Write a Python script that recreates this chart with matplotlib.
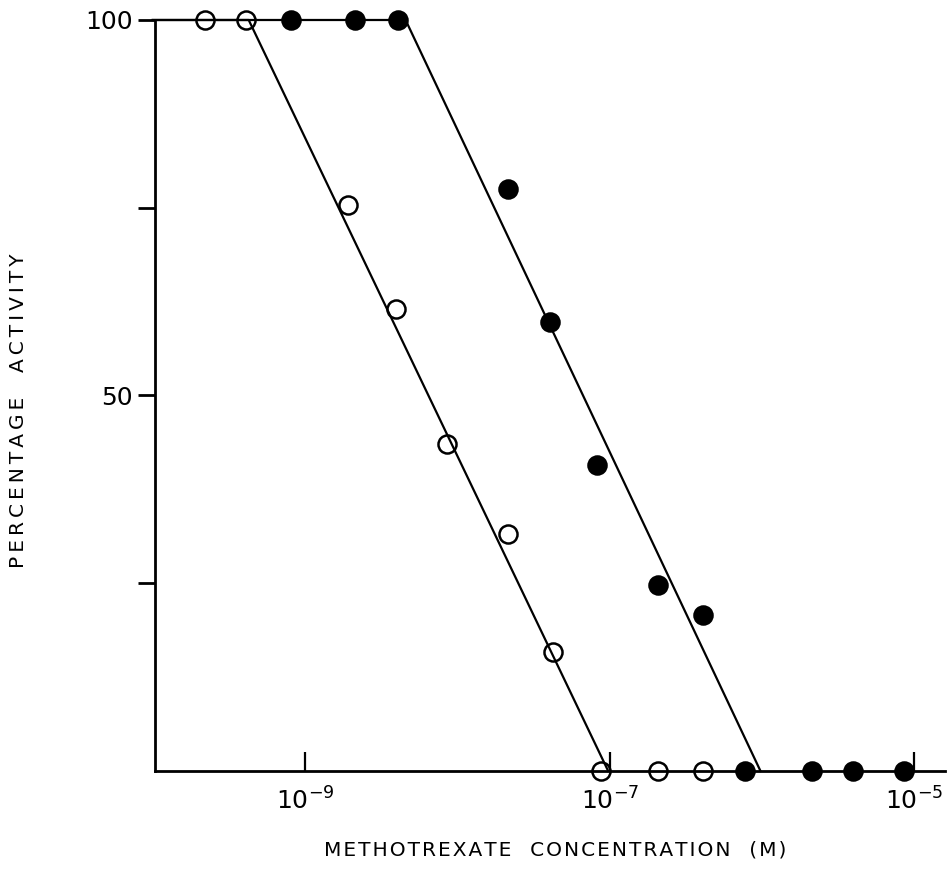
import numpy as np
import matplotlib.pyplot as plt

# log10 of methotrexate concentration (M) and percentage activity
open_logc = [-9.66, -9.39, -8.72, -8.40, -8.07, -7.67, -7.37, -7.06, -6.68, -6.39]
open_act = [100, 100, 75.3, 61.5, 43.6, 31.5, 15.9, 0, 0, 0]

filled_logc = [-9.09, -8.67, -8.39, -7.67, -7.39, -7.08, -6.68, -6.39, -6.11, -5.67, -5.40, -5.07]
filled_act = [100, 100, 100, 77.5, 59.8, 40.7, 24.7, 20.8, 0, 0, 0, 0]

# fitted lines (break points)
open_fit_logc = [-10.0, -9.37, -7.01]
open_fit_act = [100, 100, 0]
filled_fit_logc = [-10.0, -8.34, -6.01]
filled_fit_act = [100, 100, 0]

xtick_exp = [-9, -7, -5]
ytick_vals = [25, 50, 75, 100]
ytick_labels = ['', '50', '', '100']

xlabel = 'METHOTREXATE  CONCENTRATION  (M)'
ylabel = 'PERCENTAGE  ACTIVITY'

plt.rcParams['font.family'] = 'DejaVu Sans'


def spaced(s, gap):
    # the original lettering is tracked out a little
    return gap.join(s)


fig = plt.figure(figsize=(9.5, 8.77), dpi=100)
ax = fig.add_axes([0.1632, 0.1209, 0.8316, 0.8563])

ax.plot(10.0 ** np.array(open_fit_logc), open_fit_act, color='black', lw=1.6, clip_on=False)
ax.plot(10.0 ** np.array(filled_fit_logc), filled_fit_act, color='black', lw=1.6, clip_on=False)

ax.plot(10.0 ** np.array(open_logc), open_act, 'o', ms=13, mfc='none', mec='black',
        mew=1.8, clip_on=False, zorder=4)
ax.plot(10.0 ** np.array(filled_logc), filled_act, 'o', ms=13, mfc='black', mec='black',
        mew=1.8, clip_on=False, zorder=4)

ax.set_xscale('log')
ax.set_xlim(10 ** -9.985, 10 ** -4.798)
ax.set_ylim(0, 100)

ax.spines['top'].set_visible(False)
ax.spines['right'].set_visible(False)
for s in ['left', 'bottom']:
    ax.spines[s].set_linewidth(2)

ax.set_xticks([10.0 ** e for e in xtick_exp])
ax.set_xticklabels(['$10^{%d}$' % e for e in xtick_exp])
ax.minorticks_off()
ax.tick_params(axis='x', direction='in', length=14, width=1.6, labelsize=18, pad=12)

ax.set_yticks(ytick_vals)
ax.set_yticklabels(ytick_labels)
ax.tick_params(axis='y', direction='out', length=12, width=2, labelsize=18, pad=4)

fig.text(0.584, 0.031, spaced(xlabel, '\u200a'), ha='center', va='center', fontsize=14.5)
fig.text(0.02, 0.532, spaced(ylabel, '\u2009'), ha='center', va='center',
         rotation=90, fontsize=14.5)

fig.savefig('out.png', dpi=100)
